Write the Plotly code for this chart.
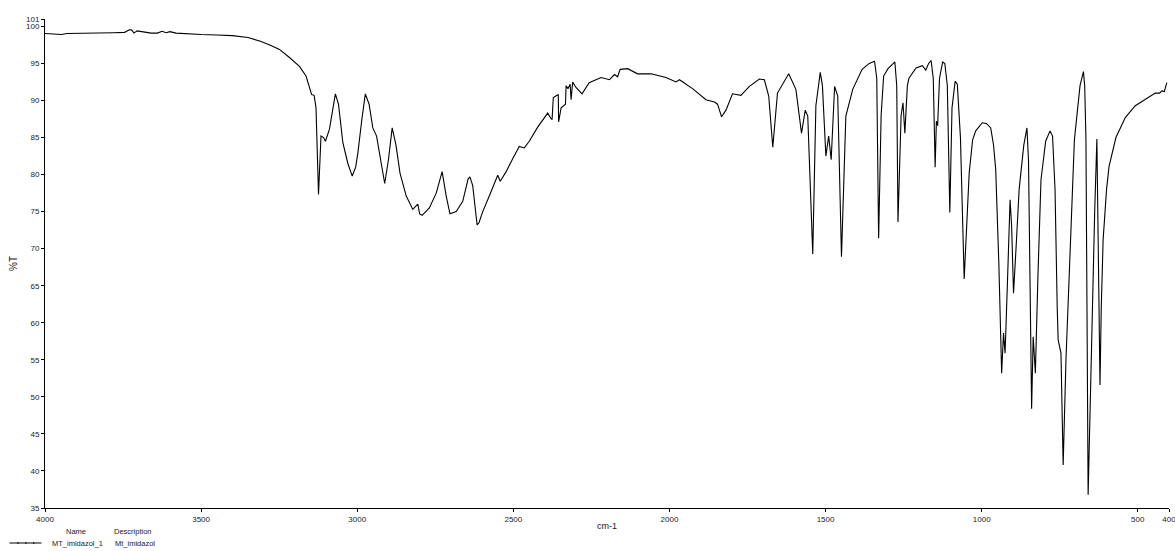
import plotly.graph_objects as go

# IR spectrum of MT_imidazol (wavenumber cm-1, %T)
wavenumber = [
    4000, 3960, 3947, 3930, 3880, 3820, 3780, 3745, 3730, 3722, 3715, 3705, 3690,
    3660, 3640, 3625, 3612, 3600, 3580, 3540, 3500, 3450, 3400, 3350, 3310, 3280,
    3249, 3217, 3185, 3164, 3153, 3146, 3138, 3132, 3124, 3118, 3116, 3108, 3102,
    3089, 3070, 3060, 3046, 3030, 3016, 3005, 2998, 2985, 2974, 2962, 2950, 2938,
    2925, 2912, 2900, 2888, 2876, 2863, 2843, 2822, 2806, 2800, 2792, 2769, 2747,
    2728, 2715, 2703, 2683, 2662, 2645, 2639, 2630, 2625, 2616, 2610, 2598, 2577,
    2550, 2542, 2523, 2500, 2481, 2465, 2449, 2422, 2390, 2380, 2376, 2372, 2360,
    2356, 2355, 2347, 2333, 2331, 2325, 2318, 2315, 2310, 2300, 2289, 2280, 2257,
    2219, 2192, 2176, 2166, 2158, 2134, 2102, 2059, 2011, 1979, 1968, 1926, 1883,
    1856, 1846, 1833, 1819, 1798, 1771, 1744, 1712, 1696, 1682, 1669, 1654, 1618,
    1595, 1577, 1565, 1557, 1541, 1531, 1517, 1510, 1499, 1490, 1482, 1471, 1461,
    1449, 1435, 1413, 1392, 1383, 1360, 1343, 1336, 1330, 1322, 1314, 1300, 1278,
    1272, 1268, 1258, 1252, 1246, 1238, 1233, 1210, 1190, 1179, 1170, 1162, 1155,
    1149, 1145, 1141, 1135, 1125, 1118, 1110, 1102, 1095, 1085, 1078, 1068, 1056,
    1040, 1029, 1019, 998, 985, 971, 962, 955, 945, 936, 930, 925, 917, 909, 904,
    898, 890, 880, 865, 855, 850, 848, 843, 840, 835, 828, 820, 810, 795, 781, 773,
    765, 758, 755, 746, 739, 730, 724, 715, 703, 685, 674, 670, 666, 659, 652, 645,
    638, 631, 627, 621, 617, 611, 600, 592, 570, 540, 508, 476, 444, 430, 423, 415,
    412, 407,
]
transmittance = [
    99.05, 99.0, 98.9, 99.05, 99.05, 99.1, 99.15, 99.2, 99.55, 99.5, 99.1, 99.4, 99.3,
    99.1, 99.1, 99.35, 99.15, 99.3, 99.1, 98.95, 98.9, 98.85, 98.75, 98.5, 98.0, 97.5,
    96.9, 95.8, 94.6, 93.3, 91.9, 90.8, 90.7, 89.0, 77.3, 84.5, 85.2, 85.0, 84.5,
    86.1, 90.9, 89.5, 84.3, 81.5, 79.8, 81.0, 82.9, 87.5, 90.9, 89.5, 86.3, 85.2,
    82.0, 78.8, 82.0, 86.3, 84.0, 80.2, 77.1, 75.3, 76.0, 74.7, 74.5, 75.5, 77.5,
    80.4, 77.1, 74.7, 75.0, 76.4, 79.4, 79.7, 78.5, 76.6, 73.2, 73.5, 75.0, 77.1,
    79.9, 79.1, 80.4, 82.3, 83.8, 83.6, 84.5, 86.4, 88.3, 87.6, 87.4, 90.4, 90.7,
    90.8, 87.1, 89.0, 89.5, 92.0, 91.6, 92.2, 90.1, 92.5, 91.8, 91.3, 90.9, 92.4,
    93.1, 92.8, 93.5, 93.2, 94.2, 94.3, 93.6, 93.6, 93.1, 92.5, 92.8, 91.6, 90.1,
    89.8, 89.5, 87.8, 88.7, 90.9, 90.7, 91.9, 92.9, 92.8, 90.6, 83.7, 91.0, 93.6,
    91.5, 85.6, 88.7, 87.9, 69.3, 89.3, 93.8, 92.0, 82.5, 85.2, 82.0, 91.9, 90.6,
    68.9, 87.9, 91.5, 93.5, 94.2, 95.0, 95.3, 93.0, 71.4, 88.0, 93.3, 94.3, 95.2,
    92.0, 73.6, 88.0, 89.7, 85.6, 92.0, 93.0, 94.4, 94.7, 94.1, 95.0, 95.4, 93.0,
    81.0, 87.2, 86.6, 93.0, 95.2, 95.0, 92.0, 74.9, 89.0, 92.6, 92.2, 85.0, 65.9,
    80.2, 84.7, 85.9, 87.0, 86.9, 86.3, 84.0, 80.7, 68.0, 53.2, 58.6, 55.9, 66.0, 76.6, 73.0,
    64.0, 70.0, 78.0, 84.0, 86.3, 82.0, 75.7, 60.0, 48.4, 58.1, 53.2, 66.0, 79.3, 84.5, 85.9, 85.2,
    78.0, 62.0, 57.7, 55.9, 40.8, 55.0, 62.2, 73.0, 84.7, 92.0, 93.9, 92.0, 84.7, 36.8, 50.0, 62.2,
    75.0, 84.8, 70.0, 51.6, 62.0, 71.2, 78.0, 81.1, 85.0, 87.7, 89.3, 90.1, 91.0, 91.0, 91.3, 91.2,
    91.7, 92.4,
]

x_ticks = [4000, 3500, 3000, 2500, 2000, 1500, 1000, 500, 400]
y_ticks = [35, 40, 45, 50, 55, 60, 65, 70, 75, 80, 85, 90, 95, 100, 101]

series_name = 'MT_imidazol_1'
series_desc = 'Mt_imidazol'

font_family = 'Arial, Liberation Sans, sans-serif'

fig = go.Figure()

fig.add_trace(go.Scatter(
    x=wavenumber, y=transmittance,
    mode='lines',
    line=dict(color='black', width=1.1),
    showlegend=False,
    hoverinfo='x+y'
))

fig.update_layout(
    width=1175, height=551,
    margin=dict(l=45, r=6, t=19, b=43),
    plot_bgcolor='white',
    paper_bgcolor='white',
    font=dict(family=font_family, size=8, color='#222'),
    xaxis=dict(
        range=[4000, 400], autorange=False, automargin=False,
        tickvals=x_ticks, ticktext=[str(v) for v in x_ticks],
        showgrid=False, zeroline=False,
        showline=True, linecolor='black', linewidth=1,
        ticks='outside', ticklen=3, tickcolor='black',
        tickfont=dict(size=8, color='#222'),
        ticklabeloverflow='allow',
        title=dict(text='cm-1', font=dict(size=9, color='#222'), standoff=0),
    ),
    yaxis=dict(
        range=[35, 101], autorange=False, automargin=False,
        tickvals=y_ticks, ticktext=[str(v) for v in y_ticks],
        showgrid=False, zeroline=False,
        showline=True, linecolor='black', linewidth=1,
        ticks='outside', ticklen=3, tickcolor='black',
        tickfont=dict(size=8, color='#222'),
        ticklabeloverflow='allow',
        title=dict(text='%T', font=dict(size=10, color='#222'), standoff=6),
    ),
)

# legend table under the plot
fig.add_annotation(xref='paper', yref='paper', x=0.028, y=-0.049, text='Name',
                   showarrow=False, xanchor='center', yanchor='middle',
                   font=dict(size=7.5, color='#222'))
fig.add_annotation(xref='paper', yref='paper', x=0.078, y=-0.049, text='Description',
                   showarrow=False, xanchor='center', yanchor='middle',
                   font=dict(size=7.5, color='#222'))
fig.add_annotation(xref='paper', yref='paper', x=0.0045, y=-0.0716, text=series_name,
                   showarrow=False, xanchor='left', yanchor='middle',
                   font=dict(size=7.5, color='#222'))
fig.add_annotation(xref='paper', yref='paper', x=0.0605, y=-0.0716, text=series_desc,
                   showarrow=False, xanchor='left', yanchor='middle',
                   font=dict(size=7.5, color='#222'))
fig.add_shape(type='line', xref='paper', yref='paper',
              x0=-0.0316, x1=-0.0031, y0=-0.0716, y1=-0.0716,
              line=dict(color='black', width=1))
for xp in [-0.024, -0.017, -0.010]:
    fig.add_shape(type='line', xref='paper', yref='paper',
                  x0=xp, x1=xp, y0=-0.0696, y1=-0.0736,
                  line=dict(color='black', width=1))

# drop the page's default body margin so the figure sits at the window corner
fig.write_html('out.html', config={'displayModeBar': False},
               post_script="document.body.style.margin='0';")
